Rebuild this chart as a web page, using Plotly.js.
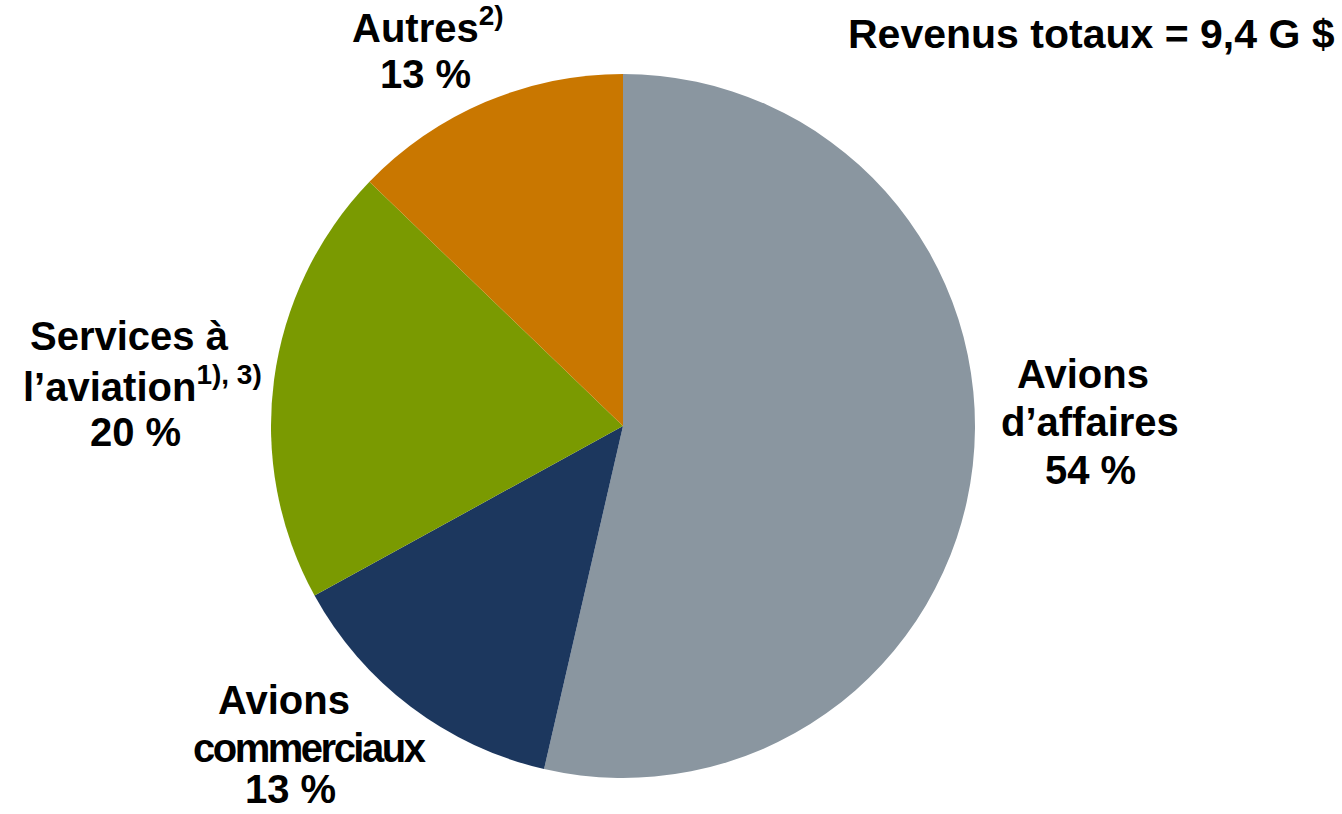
<!DOCTYPE html>
<html>
<head>
<meta charset="utf-8">
<script src="https://cdn.plot.ly/plotly-3.0.1.min.js"></script>
<style>html,body{margin:0;padding:0;background:#fff;}#chart{width:1342px;height:814px;}</style>
</head>
<body>
<div id="chart"></div>
<script>
// Data
var categories = ["Avions d’affaires", "Avions commerciaux", "Services à l’aviation", "Autres"];
var shares = [53.6, 13.4, 20.2, 12.8];
var shareLabels = ["54 %", "13 %", "20 %", "13 %"];
var labelLines = [
  ["Avions", "d’affaires"],
  ["Avions", "<span style=\"letter-spacing:-2.5px\">commerciaux</span>"],
  ["Services à", "l’aviation<sup>1), 3)</sup>"],
  ["Autres<sup>2)</sup>"]
];
var sliceColors = ["#8A96A0", "#1C375E", "#7A9A01", "#C97700"];
var totalText = "Revenus totaux = 9,4 G $";

var W = 1342, H = 814;
// label layout: [centerX, baseline] in pixels per line
var labelPos = [
  [[1083, 388], [1090, 436], [1090, 484]],
  [[284, 714], [309, 762], [290, 803]],
  [[129, 350], [142, 398], [135, 446]],
  [[428, 39], [425, 88]]
];
var FS = 40;
var font = {family: "Liberation Sans, Arial, sans-serif", size: FS, color: "#000"};

var annotations = [];
function addText(txt, cx, baseline, anchor, size) {
  var f = {family: font.family, size: size || FS, color: font.color};
  annotations.push({
    xref: "paper", yref: "paper",
    x: cx / W, y: 1 - (baseline - f.size * 0.36) / H,
    xanchor: anchor || "center", yanchor: "middle",
    borderpad: 0,
    text: "<b>" + txt + "</b>", showarrow: false, font: f
  });
}
for (var i = 0; i < categories.length; i++) {
  var lines = labelLines[i].concat([shareLabels[i]]);
  for (var j = 0; j < lines.length; j++) {
    addText(lines[j], labelPos[i][j][0], labelPos[i][j][1]);
  }
}
addText(totalText, 1336, 49, "right", 41);

var trace = {
  type: "pie",
  labels: categories,
  values: shares,
  sort: false,
  direction: "clockwise",
  rotation: 0,
  textinfo: "none",
  hoverinfo: "label+percent",
  marker: {colors: sliceColors, line: {width: 0}},
  domain: {x: [271 / W, 975 / W], y: [1 - 778 / H, 1 - 74 / H]},
  showlegend: false
};

var layout = {
  width: W, height: H,
  margin: {l: 0, r: 0, t: 0, b: 0},
  paper_bgcolor: "#fff",
  showlegend: false,
  annotations: annotations
};
Plotly.newPlot("chart", [trace], layout, {displayModeBar: false, staticPlot: true});
</script>
</body>
</html>
